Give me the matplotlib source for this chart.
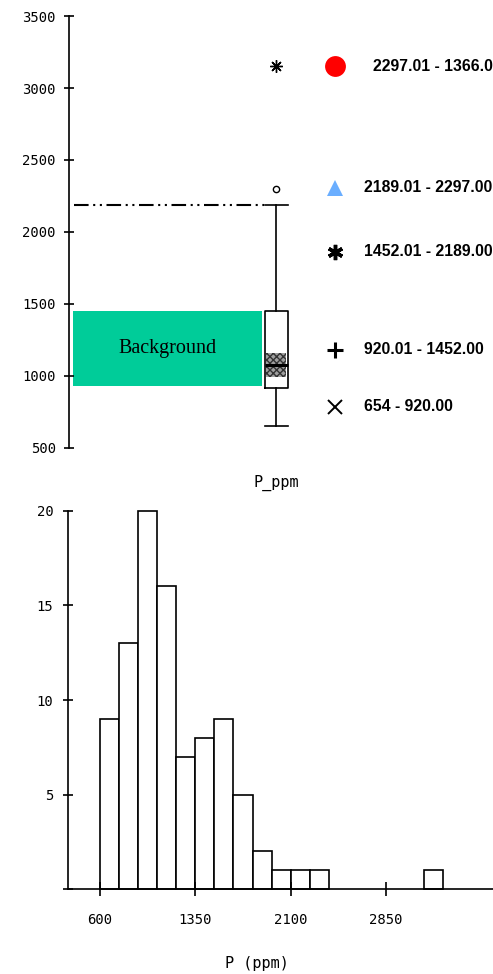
import matplotlib
matplotlib.use("Agg")
import matplotlib.pyplot as plt
import numpy as np

# box plot summary for P_ppm
box_med = 1076
box_q1 = 920
box_q3 = 1452
box_whislo = 654
box_whishi = 2189
box_cilo = 995
box_cihi = 1158
outlier_values = [2297]
far_out_values = [3150]
background_range = [930, 1452]
threshold_value = 2189

# legend classes
legend_labels = ["2297.01 - 1366.0", "2189.01 - 2297.00", "1452.01 - 2189.00",
                 "920.01 - 1452.00", "654 - 920.00"]

# histogram
bin_edges = [600, 750, 900, 1050, 1200, 1350, 1500, 1650, 1800, 1950, 2100, 2250,
             2400, 2550, 2700, 2850, 3000, 3150, 3300]
bin_counts = [9, 13, 20, 16, 7, 8, 9, 5, 2, 1, 1, 1, 0, 0, 0, 0, 0, 1]
hist_xticks = [600, 1350, 2100, 2850]
hist_yticks = [0, 5, 10, 15, 20]

mono = "DejaVu Sans Mono"
W, H = 493, 974
fig = plt.figure(figsize=(W / 100, H / 100), dpi=100)


def px_rect(left, top, right, bottom):
    return [left / W, 1 - bottom / H, (right - left) / W, (bottom - top) / H]


# ---- top: box plot ----
ax = fig.add_axes(px_rect(69, 16, 493, 448))
ax.set_ylim(500, 3500)
ax.set_xlim(-0.035, 2.085)
for side in ["top", "right", "bottom"]:
    ax.spines[side].set_visible(False)
ax.spines["left"].set_linewidth(1.2)

ax.axhspan(background_range[0], background_range[1], xmin=0.01, xmax=0.455,
           color="#00CC99", lw=0, zorder=1)
ax.text(0.2325, np.mean(background_range), "Background", transform=ax.get_yaxis_transform(),
        ha="center", va="center", family="Liberation Serif", fontsize=14.5)
ax.axhline(threshold_value, xmin=0.012, xmax=0.46, color="black", lw=1.5,
           linestyle=(0, (7, 2.2, 1, 2.2, 1, 2.2)), zorder=2)

ax.bar(1, box_cihi - box_cilo, bottom=box_cilo, width=0.1, facecolor="#a0a0a0",
       edgecolor="#333333", hatch="xxxxx", lw=0, zorder=2)
stats = [dict(med=box_med, q1=box_q1, q3=box_q3, whislo=box_whislo, whishi=box_whishi,
              fliers=[])]
ax.bxp(stats, positions=[1], widths=0.115, capwidths=0.115, showfliers=False,
       boxprops=dict(color="black", lw=1.2), whiskerprops=dict(color="black", lw=1.2),
       capprops=dict(color="black", lw=1.2), medianprops=dict(color="black", lw=2.2),
       manage_ticks=False)
ax.plot([1] * len(outlier_values), outlier_values, "o", mfc="white", mec="black",
        ms=4.5, mew=1, zorder=4)
ax.plot([1] * len(far_out_values), far_out_values, marker=(8, 2, 0), ls="none",
        color="black", ms=9, mew=1.0, zorder=4)

ax.set_yticks(np.arange(500, 3501, 500))
ax.tick_params(axis="y", direction="inout", length=7, width=1.2, pad=6)
ax.set_xticks([1], ["P_ppm"])
ax.tick_params(axis="x", length=0, pad=19)
for lbl in ax.get_yticklabels() + ax.get_xticklabels():
    lbl.set_family(mono)
    lbl.set_fontsize(10)
ax.get_xticklabels()[0].set_fontsize(11)

# legend, placed by hand like the original
leg_y = [0.884, 0.602, 0.454, 0.227, 0.095]
leg_text_x = [0.717, 0.696, 0.696, 0.696, 0.696]
leg_styles = [
    dict(marker="o", color="#FF0000", ms=15, mew=0),
    dict(marker="^", color="#6AAEFF", ms=12, mew=0),
    dict(marker=(6, 2, 0), color="black", ms=11, mew=2.5),
    dict(marker="+", color="black", ms=12, mew=2.2),
    dict(marker="x", color="black", ms=10, mew=1.4),
]
for label, y, tx, style in zip(legend_labels, leg_y, leg_text_x, leg_styles):
    ax.plot([0.627], [y], ls="none", transform=ax.transAxes, clip_on=False, **style)
    ax.text(tx, y, label, transform=ax.transAxes, va="center", ha="left",
            family="Liberation Sans", fontweight="bold", fontsize=11.3, clip_on=False)

# ---- bottom: histogram ----
hx = fig.add_axes(px_rect(68, 510.7, 493, 889.3))
hx.set_xlim(348, 3692)
hx.set_ylim(0, 20)
for side in ["top", "right"]:
    hx.spines[side].set_visible(False)
hx.spines["left"].set_linewidth(1.2)
hx.spines["bottom"].set_linewidth(1.2)

edges = np.array(bin_edges)
counts = np.array(bin_counts)
keep = counts > 0
hx.bar(edges[:-1][keep], counts[keep], width=np.diff(edges)[keep], align="edge",
       facecolor="white", edgecolor="black", lw=1.2, clip_on=False)

hx.set_xticks(hist_xticks)
hx.set_yticks(hist_yticks, [""] + [str(v) for v in hist_yticks[1:]])
hx.tick_params(axis="x", direction="inout", length=9.5, width=1.2, pad=12)
hx.tick_params(axis="y", direction="inout", length=7, width=1.2, pad=7)
for lbl in hx.get_xticklabels() + hx.get_yticklabels():
    lbl.set_family(mono)
    lbl.set_fontsize(10)
hx.set_xlabel("P (ppm)", family=mono, fontsize=11)
hx.xaxis.set_label_coords(0.445, -0.176)

fig.savefig("out.png", dpi=100)
